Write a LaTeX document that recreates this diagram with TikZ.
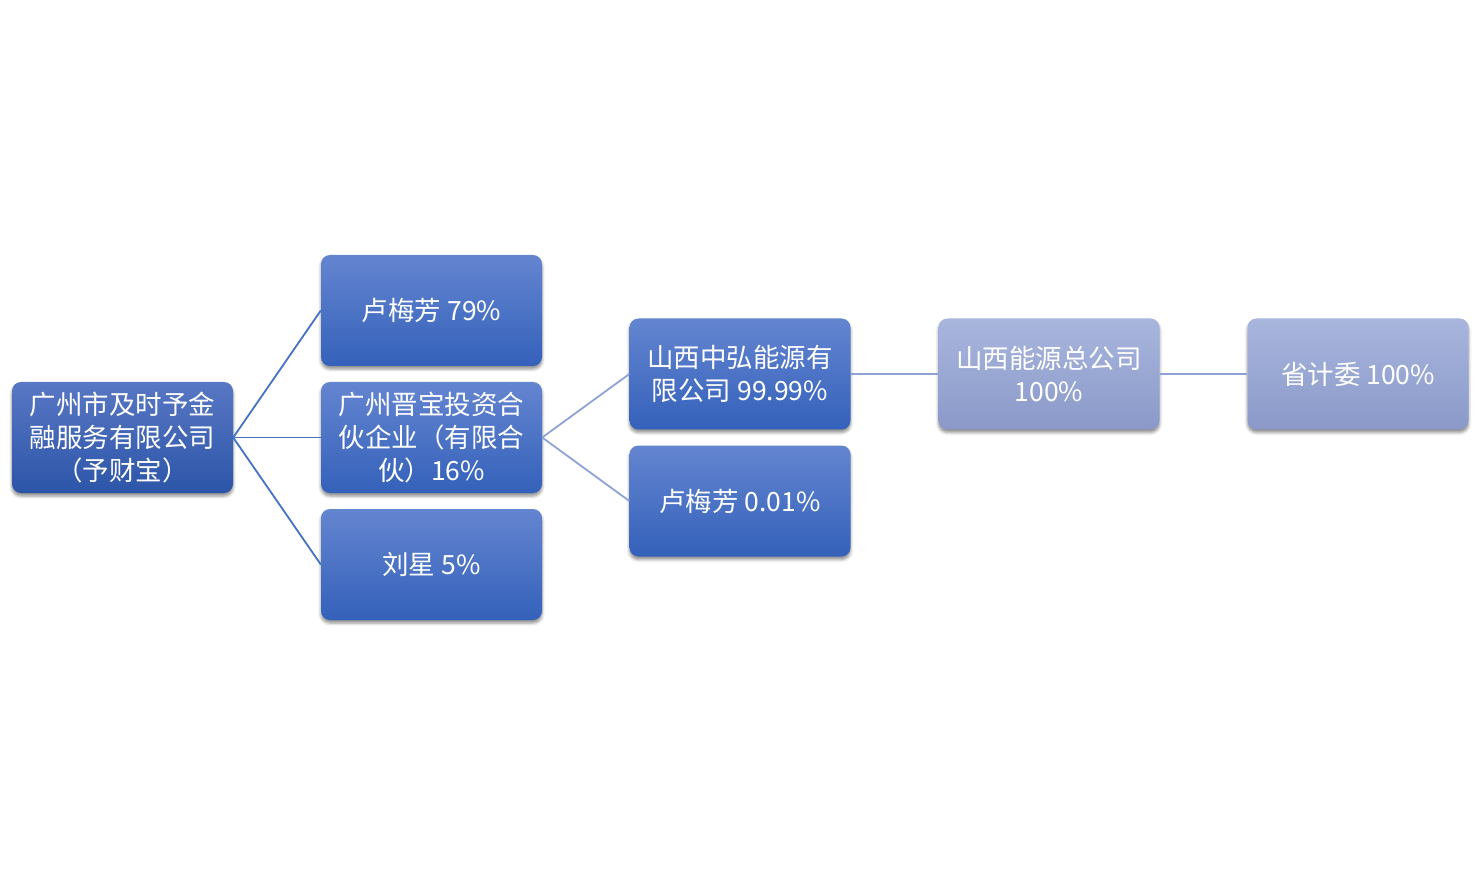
\documentclass[tikz,border=0pt]{standalone}
\usepackage{fontspec}
\setmainfont{Noto Sans CJK SC}
\usetikzlibrary{shadows.blur}
\definecolor{dtop}{HTML}{6485D0}
\definecolor{dbot}{HTML}{3461BA}
\definecolor{rtop}{HTML}{5877C4}
\definecolor{rbot}{HTML}{2C55A8}
\definecolor{ltop}{HTML}{A8B6DE}
\definecolor{lbot}{HTML}{8A99C8}
\definecolor{lineA}{HTML}{4472C4}
\definecolor{lineB}{HTML}{8FA2D6}
\begin{document}
\begin{tikzpicture}[x=1pt,y=-1pt,
  box/.style={rounded corners=9pt, minimum width=221pt, minimum height=111pt, inner sep=0pt,
    align=center, text=white, font=\fontsize{26.5}{33}\selectfont,
    blur shadow={shadow xshift=0pt, shadow yshift=-3pt, shadow blur radius=3pt, shadow opacity=45}},
  rootbox/.style={box, top color=rtop, bottom color=rbot},
  darkbox/.style={box, top color=dtop, bottom color=dbot},
  lightbox/.style={box, top color=ltop, bottom color=lbot},
  linkA/.style={draw=lineA, line width=1.8pt},
  linkB/.style={draw=lineB, line width=1.8pt}]
\useasboundingbox (0,0) rectangle (1478,874);
\node[rootbox] (root) at (122.5,437.5) {广州市及时予金\\融服务有限公司\\（予财宝）};
\node[darkbox] (lu) at (431.5,310.5) {卢梅芳 79\%};
\node[darkbox] (jb) at (431.5,437.5) {广州晋宝投资合\\伙企业（有限合\\伙）16\%};
\node[darkbox] (lx) at (431.5,564.5) {刘星 5\%};
\node[darkbox] (zh) at (740,374) {山西中弘能源有\\限公司 99.99\%};
\node[darkbox] (lu2) at (740,501) {卢梅芳 0.01\%};
\node[lightbox] (ny) at (1049,374) {山西能源总公司\\100\%};
\node[lightbox] (sj) at (1358,374) {省计委 100\%};
\draw[linkA] (root.east) -- (lu.west);
\draw[linkA] (root.east) -- (jb.west);
\draw[linkA] (root.east) -- (lx.west);
\draw[linkB] (jb.east) -- (zh.west);
\draw[linkB] (jb.east) -- (lu2.west);
\draw[linkB] (zh.east) -- (ny.west);
\draw[linkB] (ny.east) -- (sj.west);
\end{tikzpicture}
\end{document}
